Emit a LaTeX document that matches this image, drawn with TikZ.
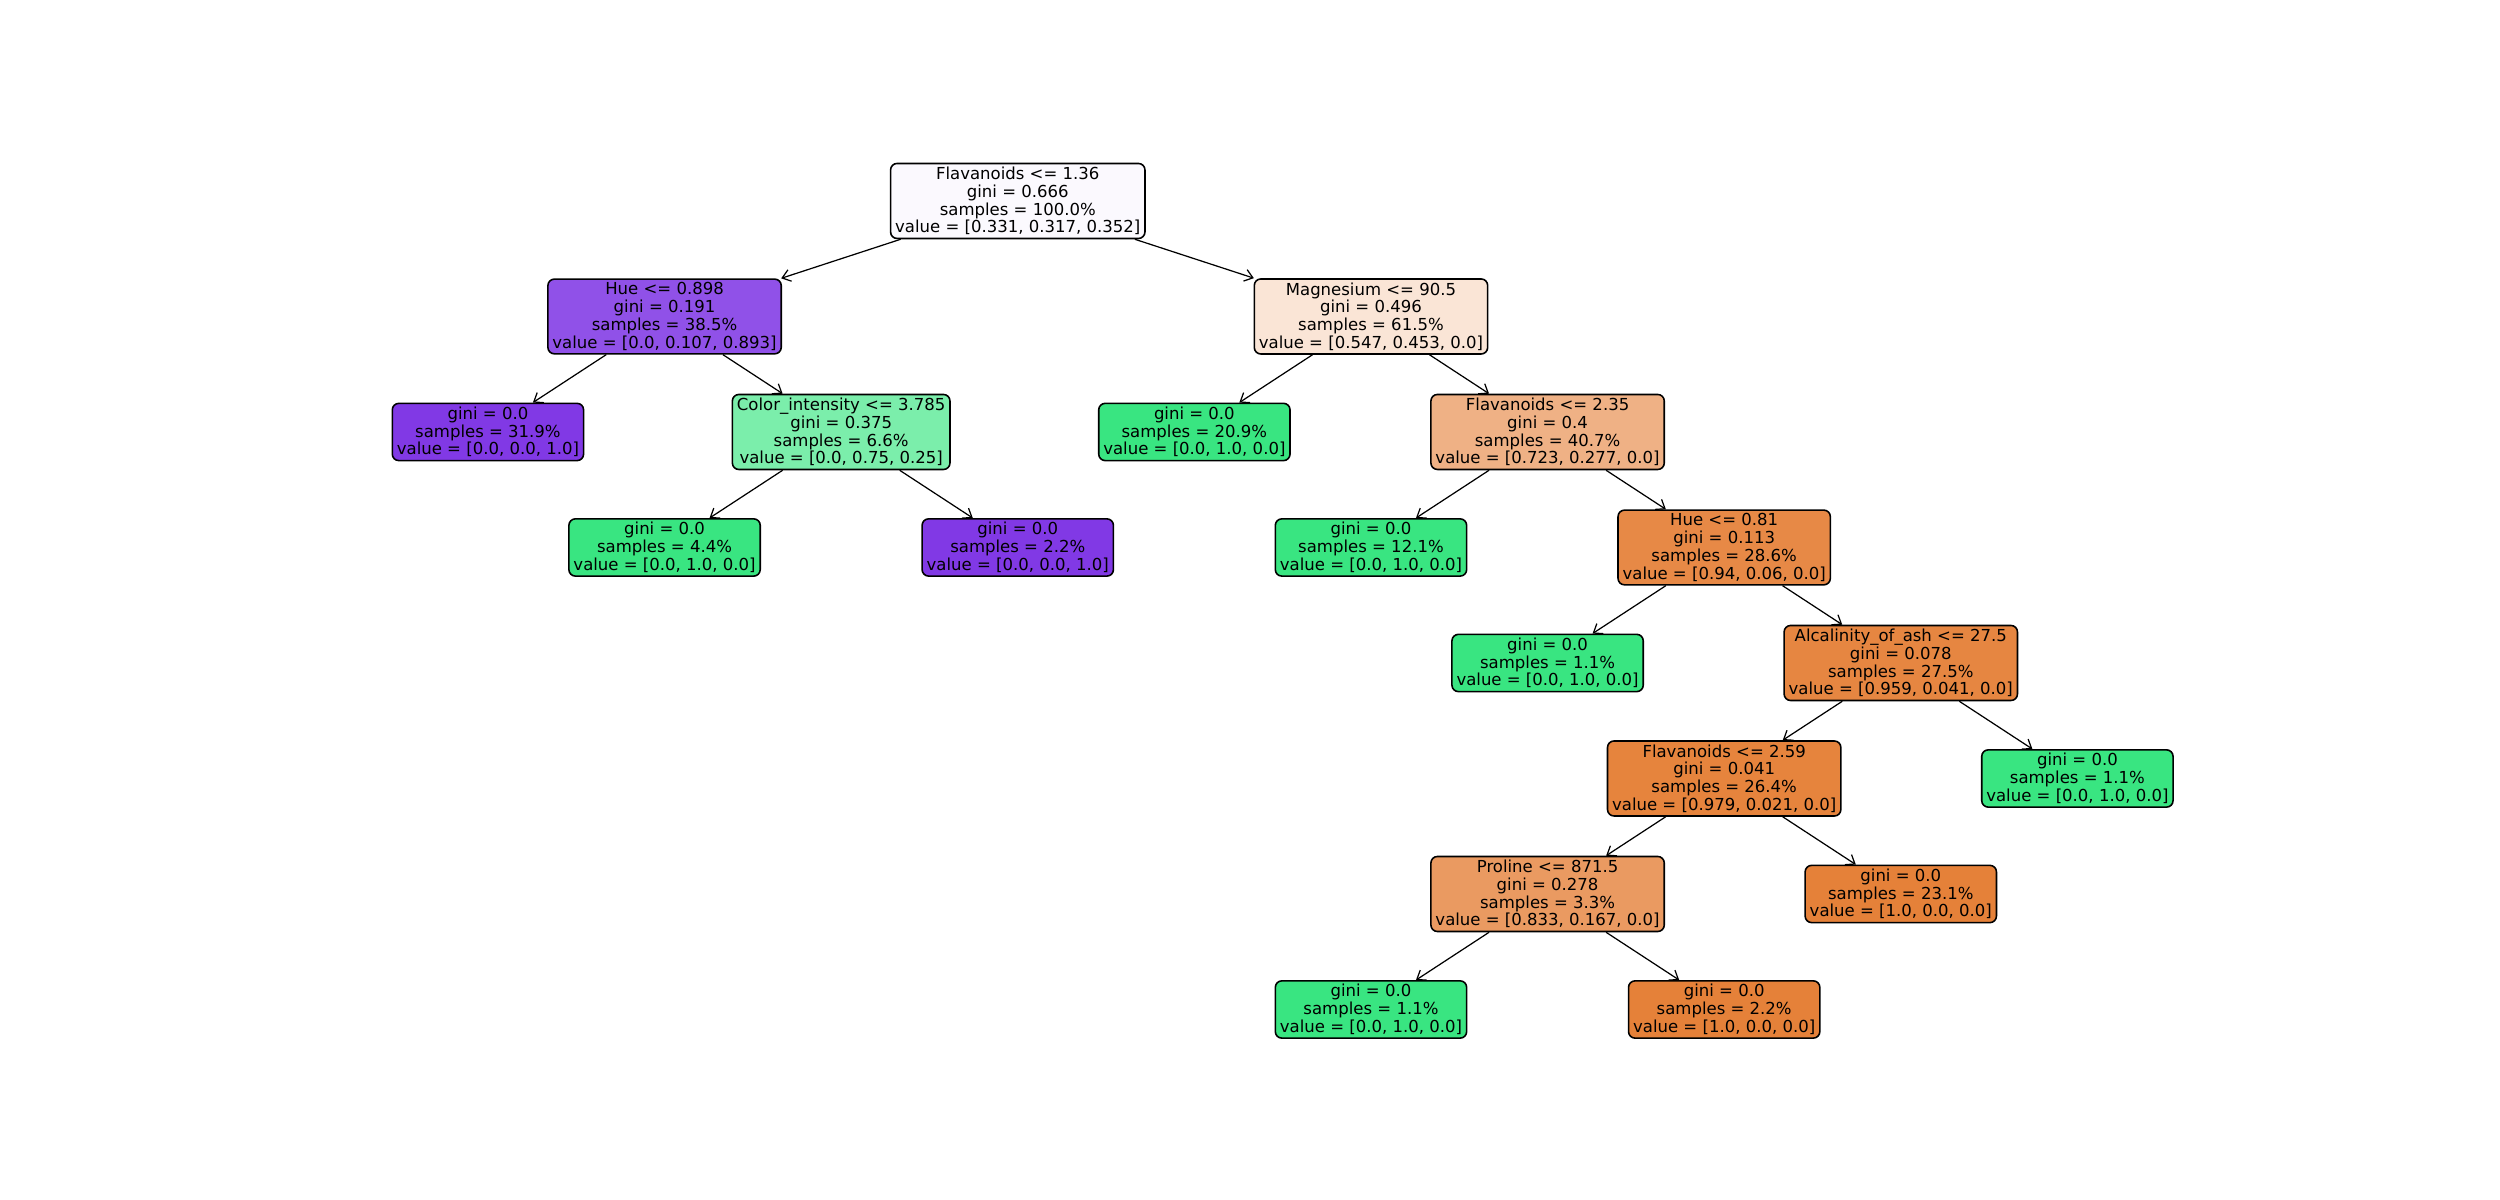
\documentclass[tikz,border=0pt]{standalone}
\usepackage{fontspec}
\setmainfont{DejaVu Sans}
\usepackage{xcolor}
\usetikzlibrary{arrows.meta}

\definecolor{cRoot}{RGB}{251,249,254}
\definecolor{cHueA}{RGB}{144,81,232}
\definecolor{cColInt}{RGB}{123,238,171}
\definecolor{cMag}{RGB}{250,229,214}
\definecolor{cFlavA}{RGB}{239,177,133}
\definecolor{cHueB}{RGB}{231,137,70}
\definecolor{cAlc}{RGB}{230,134,65}
\definecolor{cFlavB}{RGB}{230,132,61}
\definecolor{cProl}{RGB}{234,154,97}
\definecolor{cOrange}{RGB}{229,129,57}
\definecolor{cGreen}{RGB}{57,229,129}
\definecolor{cPurple}{RGB}{129,57,229}

\begin{document}
\begin{tikzpicture}[x=3.532cm, y=-2.31cm, >={Straight Barb[length=1.6mm,width=2.4mm]},
  tnode/.style={draw, line width=0.9pt, rounded corners=1.3mm, align=center, inner xsep=2.6pt, inner ysep=2pt,
    font=\fontsize{9.4}{10.1}\selectfont},
  edge/.style={->, line width=0.7pt}]
  \useasboundingbox (-2.763,-1.740) rectangle (11.393,8.649);
  \node[tnode, fill=cRoot]    (T0)  at (3, 0) {Flavanoids <= 1.36\\gini = 0.666\\samples = 100.0\%\\value = [0.331, 0.317, 0.352]};
  \node[tnode, fill=cHueA]    (T1)  at (1, 1) {Hue <= 0.898\\gini = 0.191\\samples = 38.5\%\\value = [0.0, 0.107, 0.893]};
  \node[tnode, fill=cMag]     (T2)  at (5, 1) {Magnesium <= 90.5\\gini = 0.496\\samples = 61.5\%\\value = [0.547, 0.453, 0.0]};
  \node[tnode, fill=cPurple]  (T3)  at (0, 2) {gini = 0.0\\samples = 31.9\%\\value = [0.0, 0.0, 1.0]};
  \node[tnode, fill=cColInt]  (T4)  at (2, 2) {Color\_intensity <= 3.785\\gini = 0.375\\samples = 6.6\%\\value = [0.0, 0.75, 0.25]};
  \node[tnode, fill=cGreen]   (T5)  at (1, 3) {gini = 0.0\\samples = 4.4\%\\value = [0.0, 1.0, 0.0]};
  \node[tnode, fill=cPurple]  (T6)  at (3, 3) {gini = 0.0\\samples = 2.2\%\\value = [0.0, 0.0, 1.0]};
  \node[tnode, fill=cGreen]   (T7)  at (4, 2) {gini = 0.0\\samples = 20.9\%\\value = [0.0, 1.0, 0.0]};
  \node[tnode, fill=cFlavA]   (T8)  at (6, 2) {Flavanoids <= 2.35\\gini = 0.4\\samples = 40.7\%\\value = [0.723, 0.277, 0.0]};
  \node[tnode, fill=cGreen]   (T9)  at (5, 3) {gini = 0.0\\samples = 12.1\%\\value = [0.0, 1.0, 0.0]};
  \node[tnode, fill=cHueB]    (T10) at (7, 3) {Hue <= 0.81\\gini = 0.113\\samples = 28.6\%\\value = [0.94, 0.06, 0.0]};
  \node[tnode, fill=cGreen]   (T11) at (6, 4) {gini = 0.0\\samples = 1.1\%\\value = [0.0, 1.0, 0.0]};
  \node[tnode, fill=cAlc]     (T12) at (8, 4) {Alcalinity\_of\_ash <= 27.5\\gini = 0.078\\samples = 27.5\%\\value = [0.959, 0.041, 0.0]};
  \node[tnode, fill=cFlavB]   (T13) at (7, 5) {Flavanoids <= 2.59\\gini = 0.041\\samples = 26.4\%\\value = [0.979, 0.021, 0.0]};
  \node[tnode, fill=cGreen]   (T14) at (9, 5) {gini = 0.0\\samples = 1.1\%\\value = [0.0, 1.0, 0.0]};
  \node[tnode, fill=cProl]    (T15) at (6, 6) {Proline <= 871.5\\gini = 0.278\\samples = 3.3\%\\value = [0.833, 0.167, 0.0]};
  \node[tnode, fill=cOrange]  (T16) at (8, 6) {gini = 0.0\\samples = 23.1\%\\value = [1.0, 0.0, 0.0]};
  \node[tnode, fill=cGreen]   (T17) at (5, 7) {gini = 0.0\\samples = 1.1\%\\value = [0.0, 1.0, 0.0]};
  \node[tnode, fill=cOrange]  (T18) at (7, 7) {gini = 0.0\\samples = 2.2\%\\value = [1.0, 0.0, 0.0]};
  \foreach \p/\c in {T0/T1,T0/T2,T1/T3,T1/T4,T4/T5,T4/T6,T2/T7,T2/T8,T8/T9,T8/T10,
                     T10/T11,T10/T12,T12/T13,T12/T14,T13/T15,T13/T16,T15/T17,T15/T18}
    {\draw[edge] (\p) -- (\c);}
\end{tikzpicture}
\end{document}
